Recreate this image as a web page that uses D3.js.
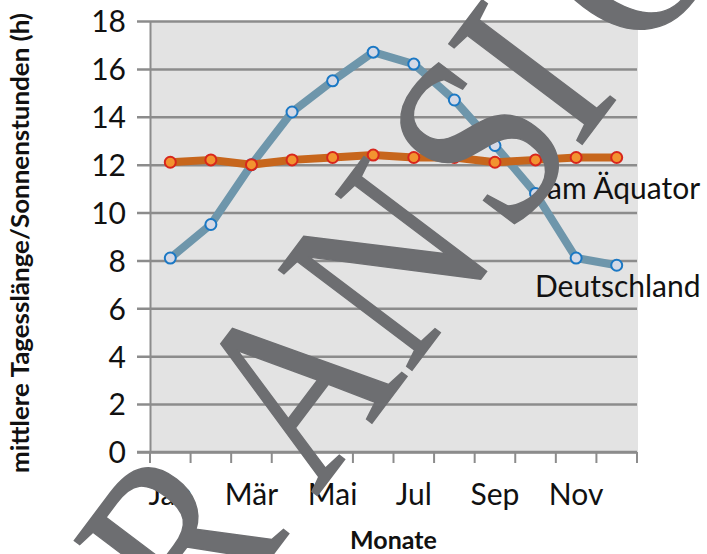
<!DOCTYPE html>
<html>
<head>
<meta charset="utf-8">
<script src="https://cdn.jsdelivr.net/npm/d3@7"></script>
<style>
  body { margin: 0; background: #fff; }
  svg { display: block; }
</style>
</head>
<body>
<div></div>
<script>
// chart data
const months = ["Jan", "Feb", "Mär", "Apr", "Mai", "Jun", "Jul", "Aug", "Sep", "Okt", "Nov", "Dez"];
const tickMonths = ["Jan", "Mär", "Mai", "Jul", "Sep", "Nov"];
const deutschland = [8.1, 9.5, 12.0, 14.2, 15.5, 16.7, 16.2, 14.7, 12.8, 10.8, 8.1, 7.8];
const aequator = [12.1, 12.2, 12.0, 12.2, 12.3, 12.4, 12.3, 12.3, 12.1, 12.2, 12.3, 12.3];
const yTicks = [0, 2, 4, 6, 8, 10, 12, 14, 16, 18];

// watermark letters
const wmLetters = ["V", "O", "R", "A", "N", "S", "I", "C", "H", "T"];
const wmOffsets = [-600, -425, -250, -58, 95, 248, 335, 480, 650, 820];

const W = 707, H = 554;
const plot = { left: 150, right: 637, top: 21, bottom: 452 };
const font = "Lato, 'Open Sans', sans-serif";
const gridColor = "#8c8c8c";

const svg = d3.select("body div")
    .append("svg")
    .attr("width", W)
    .attr("height", H);

// scales
const x = d3.scaleBand()
    .domain(months)
    .range([plot.left, plot.right]);
const y = d3.scaleLinear()
    .domain([0, 18])
    .range([plot.bottom, plot.top]);
const cx = d => x(d) + x.bandwidth() / 2;

// plot background
svg.append("rect")
    .attr("x", plot.left)
    .attr("y", plot.top)
    .attr("width", plot.right - plot.left + 1)
    .attr("height", plot.bottom - plot.top)
    .attr("fill", "#e3e3e3");

// y axis with gridlines
const yAxis = svg.append("g")
    .attr("transform", `translate(${plot.left},0)`)
    .call(d3.axisLeft(y).tickValues(yTicks)
        .tickSize(-(plot.right - plot.left))
        .tickSizeOuter(0)
        .tickPadding(24));
yAxis.select(".domain").attr("stroke", gridColor).attr("stroke-width", 2);
yAxis.selectAll(".tick line")
    .attr("stroke", gridColor)
    .attr("stroke-width", 2.5)
    .attr("x1", -13);
yAxis.selectAll(".tick text")
    .attr("font-family", font)
    .attr("font-size", 30)
    .attr("fill", "#111")
    .attr("dy", "0.36em");

// x axis: ticks on band boundaries
const xAxis = svg.append("g")
    .attr("transform", `translate(0,${plot.bottom})`);
xAxis.append("line")
    .attr("x1", plot.left - 13)
    .attr("x2", plot.right)
    .attr("stroke", gridColor)
    .attr("stroke-width", 2.5);
xAxis.selectAll("line.tick")
    .data(months.concat(["end"]))
    .join("line")
    .attr("class", "tick")
    .attr("x1", (d, i) => i < months.length ? x(d) : plot.right)
    .attr("x2", (d, i) => i < months.length ? x(d) : plot.right)
    .attr("y1", 0)
    .attr("y2", 11)
    .attr("stroke", gridColor)
    .attr("stroke-width", 2);
xAxis.selectAll("text")
    .data(tickMonths)
    .join("text")
    .attr("x", d => cx(d))
    .attr("y", 53)
    .attr("text-anchor", "middle")
    .attr("font-family", font)
    .attr("font-size", 30)
    .attr("fill", "#111")
    .text(d => d);

// axis titles
svg.append("text")
    .attr("x", (plot.left + plot.right) / 2)
    .attr("y", 549)
    .attr("text-anchor", "middle")
    .attr("font-family", font)
    .attr("font-weight", "bold")
    .attr("font-size", 25)
    .attr("fill", "#111")
    .text("Monate");

svg.append("text")
    .attr("transform", "translate(29,243) rotate(-90)")
    .attr("text-anchor", "middle")
    .attr("font-family", font)
    .attr("font-weight", "bold")
    .attr("font-size", 25)
    .attr("textLength", 460)
    .attr("lengthAdjust", "spacingAndGlyphs")
    .attr("fill", "#111")
    .text("mittlere Tagesslänge/Sonnenstunden (h)");

// lines
const line = d3.line()
    .x((d, i) => cx(months[i]))
    .y(d => y(d));

function drawSeries(values, lineColor, fill, stroke) {
    svg.append("path")
        .datum(values)
        .attr("fill", "none")
        .attr("stroke", lineColor)
        .attr("stroke-width", 8)
        .attr("stroke-linejoin", "round")
        .attr("d", line);
    svg.append("g")
        .selectAll("circle")
        .data(values)
        .join("circle")
        .attr("cx", (d, i) => cx(months[i]))
        .attr("cy", d => y(d))
        .attr("r", 5.5)
        .attr("fill", fill)
        .attr("stroke", stroke)
        .attr("stroke-width", 2);
}
drawSeries(deutschland, "#6e96ab", "#d5d9e6", "#1b78c4");
drawSeries(aequator, "#c7661c", "#f29330", "#d8261c");

// series labels
svg.append("text")
    .attr("x", 547)
    .attr("y", 199)
    .attr("font-family", font)
    .attr("font-size", 30)
    .attr("fill", "#111")
    .text("am Äquator");
svg.append("text")
    .attr("x", 535)
    .attr("y", 297)
    .attr("font-family", font)
    .attr("font-size", 30)
    .attr("fill", "#111")
    .text("Deutschland");

// watermark
const wmAngle = -53;
const ux = Math.cos(wmAngle * Math.PI / 180), uy = Math.sin(wmAngle * Math.PI / 180);
svg.append("g")
    .selectAll("text")
    .data(wmLetters)
    .join("text")
    .attr("transform", (d, i) => `translate(${397 + wmOffsets[i] * ux},${390 + wmOffsets[i] * uy}) rotate(${wmAngle}) scale(0.83,1)`)
    .attr("text-anchor", "middle")
    .attr("font-family", "'Liberation Serif', 'DejaVu Serif', serif")
    .attr("font-size", 255)
    .attr("fill", "#6d6e71")
    .attr("stroke", "#6d6e71")
    .attr("stroke-width", 1.5)
    .text(d => d);
</script>
</body>
</html>
